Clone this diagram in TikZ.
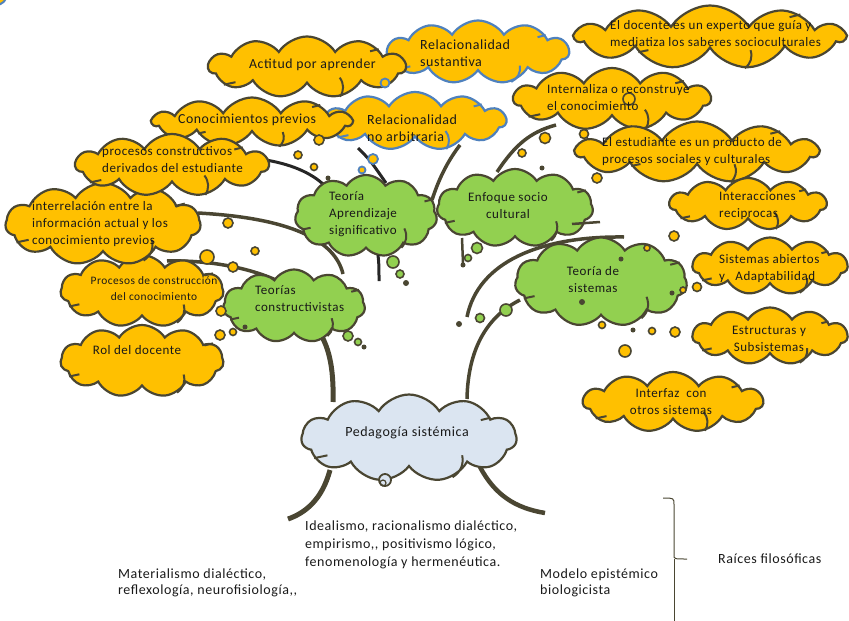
\documentclass[tikz,border=0pt]{standalone}
\usepackage{fontspec}
\setmainfont{Carlito}[LetterSpace=4]
\usetikzlibrary{shapes.symbols,calc}
\definecolor{yel}{HTML}{FFC000}
\definecolor{grn}{HTML}{92D050}
\definecolor{olv}{HTML}{4A4632}
\definecolor{blu}{HTML}{4F81BD}
\definecolor{pale}{HTML}{DBE5F1}
\tikzset{
  cl/.style={cloud, cloud puffs=11, cloud puff arc=115, cloud ignores aspect, draw=olv, line width=2.2pt, fill=yel, inner sep=0pt},
  clb/.style={cl, draw=blu},
  clg/.style={cl, fill=grn},
  clp/.style={cl, fill=pale},
  arcst/.style={draw=olv, line width=2pt},
  arcsb/.style={draw=blu, line width=2pt},
  br/.style={draw=olv, line width=3.5pt},
  brk/.style={draw=black!85, line width=3pt},
  bubY/.style={draw=olv, fill=yel, line width=1.6pt},
  bubB/.style={draw=blu, fill=yel, line width=1.8pt},
  bubG/.style={draw=olv, fill=grn, line width=1.6pt},
  dot/.style={fill=olv},
  tx/.style={align=left, inner sep=0pt, text=black!90, font=\fontsize{13}{17}\selectfont},
  txc/.style={tx, align=center},
  txA/.style={tx, font=\fontsize{13.8}{17}\selectfont},
}
\newcommand\yb[3]{\draw[bubY] (#1,#2) circle (#3);}
\newcommand\bb[3]{\draw[bubB] (#1,#2) circle (#3);}
\newcommand\gb[3]{\draw[bubG] (#1,#2) circle (#3);}
\newcommand\db[3]{\fill[dot] (#1,#2) circle (#3);}
% inner arcs of a cloud: #1 style, #2 node name
\newcommand\iarcs[2]{%
  \draw[#1] (#2.192) -- ($(#2.192)!0.14!(#2.center)$);
  \draw[#1] (#2.14) -- ($(#2.14)!0.12!(#2.center)$);
  \draw[#1] ($(#2.center)!0.62!(#2.-18)$) to[bend left=35] (#2.-42);
}
\begin{document}
\begin{tikzpicture}[x=1pt,y=-1pt]
\useasboundingbox (0,0) rectangle (849,621);
\begin{scope}
\clip (0,0) rectangle (849,621);
\draw[fill=yel, draw=blu, line width=2pt] (-4,-6) circle (11);
\end{scope}

% connector end points
\coordinate (p1a) at (333,402); \coordinate (p1b) at (318,330);
\coordinate (p2a) at (467,399); \coordinate (p2b) at (520,300);
\coordinate (p3a) at (467,317); \coordinate (p3b) at (624,237);
\coordinate (p4a) at (497,172); \coordinate (p4b) at (556,125);
\coordinate (p5a) at (432,200); \coordinate (p5b) at (460,145);
\coordinate (p6a) at (266,160); \coordinate (p6b) at (327,188);
\coordinate (p7a) at (358,148); \coordinate (p7b) at (386,183);
\coordinate (p8a) at (198,213); \coordinate (p8b) at (343,274);
\coordinate (p9a) at (167,261); \coordinate (p9b) at (278,281);
\coordinate (r1a) at (330,470); \coordinate (r1b) at (288,519);
\coordinate (r2a) at (480,467); \coordinate (r2b) at (545,513);

% branches (behind the clouds)
\draw[br, line width=5pt] (p1a) .. controls (334,365) and (328,345) .. (p1b);
\draw[br] (p2a) .. controls (468,345) and (490,315) .. (p2b);
\draw[br] (p3a) .. controls (478,262) and (540,236) .. (p3b);
\draw[br] (p4a) .. controls (515,145) and (530,132) .. (p4b);
\draw[br] (p5a) .. controls (440,175) and (450,158) .. (p5b);
\draw[brk] (p6a) .. controls (295,165) and (315,175) .. (p6b);
\draw[brk] (p7a) .. controls (370,160) .. (p7b);
\draw[br] (p8a) .. controls (290,218) and (335,240) .. (p8b);
\draw[br] (p9a) .. controls (210,260) and (250,268) .. (p9b);
\draw[br, line width=5pt] (r1a) .. controls (322,500) and (305,513) .. (r1b);
\draw[br, line width=4.5pt] (r2a) .. controls (495,495) and (515,508) .. (r2b);

% clouds
\node[clb, minimum width=182, minimum height=63] (rs) at (478,52) {}; \iarcs{arcsb}{rs}
\node[clb, minimum width=182, minimum height=58] (rna) at (415,121) {}; \iarcs{arcsb}{rna}
\node[cl, minimum width=197, minimum height=61] (act) at (307,67) {}; \iarcs{arcst}{act}
\node[cl, minimum width=269, minimum height=63] (doc) at (710,37) {}; \iarcs{arcst}{doc}
\node[cl, minimum width=199, minimum height=49] (con) at (252,122) {}; \iarcs{arcst}{con}
\node[cl, minimum width=197, minimum height=62] (int) at (612,99) {}; \iarcs{arcst}{int}
\node[cl, minimum width=163, minimum height=72] (rol) at (142,361) {}; \iarcs{arcst}{rol}
\node[cl, minimum width=163, minimum height=72] (pcc) at (142,291) {}; \iarcs{arcst}{pcc}
\node[cl, minimum width=195, minimum height=82] (irl) at (103,224) {}; \iarcs{arcst}{irl}
\node[cl, minimum width=193, minimum height=62] (pce) at (172,165) {}; \iarcs{arcst}{pce}
\node[cl, minimum width=242, minimum height=61] (est) at (697,152) {}; \iarcs{arcst}{est}
\node[cl, minimum width=157, minimum height=52] (inr) at (748,204) {}; \iarcs{arcst}{inr}
\node[cl, minimum width=155, minimum height=57] (sab) at (770,266) {}; \iarcs{arcst}{sab}
\node[cl, minimum width=155, minimum height=57] (esu) at (770,336) {}; \iarcs{arcst}{esu}
\node[cl, minimum width=180, minimum height=60] (itf) at (673,402) {}; \iarcs{arcst}{itf}
\node[clg, minimum width=142, minimum height=82] (tas) at (366,216) {}; \iarcs{arcst}{tas}
\node[clg, minimum width=156, minimum height=78] (esc) at (515,208) {}; \iarcs{arcst}{esc}
\node[clg, minimum width=172, minimum height=89] (tsi) at (601,282) {}; \iarcs{arcst}{tsi}
\node[clg, minimum width=142, minimum height=73] (tco) at (294,306) {}; \iarcs{arcst}{tco}
\node[clp, minimum width=215, minimum height=87] (ped) at (409,438) {}; \iarcs{arcst}{ped}

% stubs over the clouds
\coordinate (s2a) at (462,238); \coordinate (s2b) at (463,263);
\coordinate (s3a) at (378,255); \coordinate (s3b) at (379,281);
\coordinate (s4a) at (572,224); \coordinate (s4b) at (600,222);
\draw[br, line width=2.5pt] (s2a) -- (s2b);
\draw[brk] (s3a) .. controls (379,265) .. (s3b);
\draw[br, line width=2.5pt] (s4a) -- (s4b);

% bubbles
\yb{319}{140}{5} \yb{298}{155}{4} \yb{314}{167}{3.5}
\yb{228}{223}{5} \yb{255}{251}{4} \yb{207}{257}{7} \yb{233}{267}{5}
\yb{221}{311}{5} \yb{220}{335}{5} \yb{233}{332}{3.5}
\yb{629}{99}{6} \yb{545}{138}{5.5} \yb{584}{134}{4.5} \yb{522}{153}{4} \yb{597}{178}{5}
\yb{674}{236}{5} \yb{647}{248}{3} \yb{602}{325}{3.5} \yb{683}{290}{3} \yb{697}{287}{4.5}
\yb{652}{331}{3.5} \yb{675}{332}{5} \yb{625}{351}{6}
\bb{385}{83}{4.5} \bb{373}{159}{5} \bb{362}{170}{3.5}
\db{328}{178}{2.5} \db{245}{327}{2.5} \db{364}{347}{2.5} \db{406}{283}{3}
\db{463}{265}{2.5} \db{459}{324}{3} \db{621}{259}{2.5} \db{582}{302}{3}
\db{672}{293}{2.5} \db{633}{330}{2.5} \db{542}{168}{2.5}
\gb{348}{336}{5} \gb{358}{342}{3.5} \gb{393}{262}{6} \gb{400}{274}{4}
\gb{477}{248}{5.5} \gb{468}{258}{3.5} \gb{506}{310}{6} \gb{480}{318}{4.5}
\draw[draw=olv, fill=pale, line width=1.8pt] (385,480) circle (6);
\draw[draw=olv, line width=1.2pt] (383,483) circle (3);

% texts
\node[txA, anchor=west] (tact) at (249,65) {Actitud por aprender};
\node[txA, anchor=west, font=\fontsize{14}{17}\selectfont] (trs) at (420,53.5) {Relacionalidad\\sustantiva};
\node[tx, anchor=west] (tdoc) at (610,34) {El docente es un experto que guía y\\mediatiza los saberes socioculturales};
\node[txA, anchor=west] (tcon) at (178,120) {Conocimientos previos};
\node[txA, anchor=west, font=\fontsize{14}{17}\selectfont] (trna) at (367,128.5) {Relacionalidad\\no arbitraria};
\node[tx, anchor=west] (tint) at (547,97.5) {Internaliza o reconstruye\\el conocimiento};
\node[tx, anchor=west] (tpce) at (102,159.5) {procesos constructivos\\derivados del estudiante};
\node[tx, anchor=west] (test) at (602,152) {El estudiante es un producto de\\procesos sociales y culturales};
\node[tx, anchor=west] (tinr) at (719,206) {Interacciones\\reciprocas};
\node[tx, anchor=west] (tirl) at (32,224) {interrelación entre la\\información actual y los\\conocimiento previos};
\node[tx, anchor=west] (ttas) at (329,214) {Teoría\\Aprendizaje\\significativo};
\node[txc] (tesc) at (508,206) {Enfoque socio\\cultural};
\node[txc] (ttsi) at (593,280) {Teoría de\\sistemas};
\node[tx, anchor=west] (tsab) at (719,269) {Sistemas abiertos\\y \ \ Adaptabilidad};
\node[txc, font=\fontsize{11.4}{16}\selectfont] (tpcc) at (154,289) {Procesos de construcción\\del conocimiento};
\node[tx, anchor=west] (ttco) at (255,298.5) {Teorías\\constructivistas};
\node[txc] (trol) at (137,350) {Rol del docente};
\node[txc] (tesu) at (769,338.5) {Estructuras y\\Subsistemas};
\node[txc] (titf) at (671,401.5) {Interfaz\ \ con\\otros sistemas};
\node[txA, font=\fontsize{14}{17}\selectfont] (tped) at (407,433) {Pedagogía sistémica};

\node[txA, anchor=west, font=\fontsize{14}{18}\selectfont] (tide) at (305,545) {Idealismo, racionalismo dialéctico,\\empirismo{,}{,} positivismo lógico,\\fenomenología y hermenéutica.};
\node[txA, anchor=west, font=\fontsize{14}{16}\selectfont] (tmat) at (118,583) {Materialismo dialéctico,\\reflexología, neurofisiología{,}{,}};
\node[txA, anchor=west, font=\fontsize{14}{16}\selectfont] (tmod) at (540,583) {Modelo epistémico\\biologicista};
\node[txA, anchor=west, font=\fontsize{14}{17}\selectfont] (trai) at (718,559) {Raíces filosóficas};

% brace
\coordinate (kA) at (663,498); \coordinate (kB) at (687,559); \coordinate (kC) at (674,621);
\draw[draw=olv, line width=1pt] (kA) .. controls (674,498) .. (674,505) -- (674,555) .. controls (674,559) .. (kB);
\draw[draw=olv, line width=1pt] (674,559) -- (kC);
\end{tikzpicture}
\end{document}
